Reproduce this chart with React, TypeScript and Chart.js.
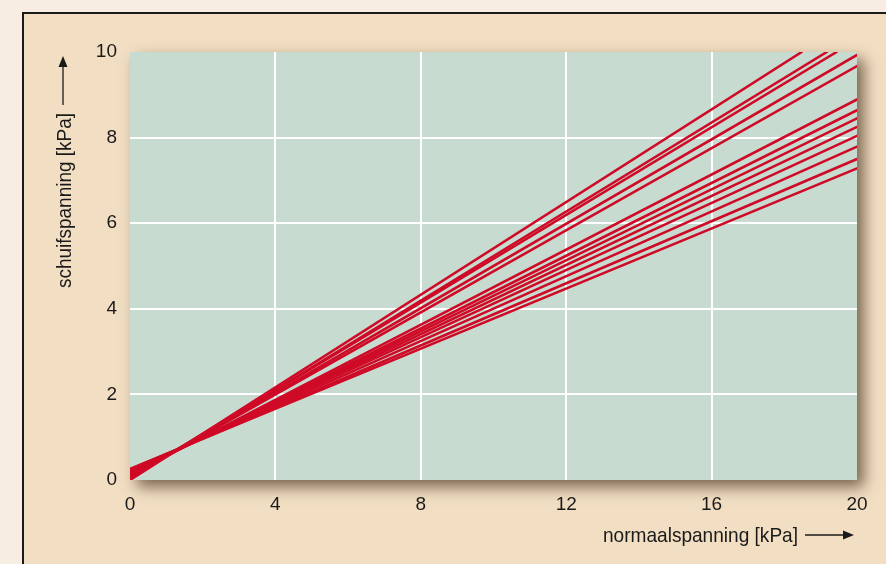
import React, { useEffect, useRef } from "react";
import { Chart, registerables } from "chart.js";

Chart.register(...registerables);

// Data: each line runs from (0, intercept) to (endX, endY)
const intercepts = [0.0, 0.03, 0.05, 0.07, 0.08, 0.12, 0.14, 0.16, 0.18, 0.2, 0.22, 0.24, 0.26];
const endX = [18.48, 19.17, 19.44, 20, 20, 20, 20, 20, 20, 20, 20, 20, 20];
const endY = [10, 10, 10, 9.93, 9.67, 8.89, 8.64, 8.45, 8.25, 8.04, 7.79, 7.5, 7.28];

const xTicks = [0, 4, 8, 12, 16, 20];
const yTicks = [0, 2, 4, 6, 8, 10];
const xTitle = "normaalspanning [kPa]";
const yTitle = "schuifspanning [kPa]";

const FONT = "'Liberation Sans', Arial, 'DejaVu Sans', sans-serif";
const LINE_COLOR = "#cf0a27";
const PLOT_BG = "#c8dbd0";
const TEXT_COLOR = "#1a1a1a";

// draw text horizontally condensed to a target width (mimics a condensed typeface)
function condensedText(ctx: CanvasRenderingContext2D, text: string, x: number, y: number, width: number) {
  const w = ctx.measureText(text).width;
  const s = Math.min(1, width / w);
  ctx.save();
  ctx.translate(x, y);
  ctx.scale(s, 1);
  ctx.fillText(text, 0, 0);
  ctx.restore();
}

const decorPlugin = {
  id: "decor",
  beforeDraw(chart: any) {
    const { ctx, chartArea } = chart;
    ctx.save();
    ctx.shadowColor = "rgba(70,50,30,0.7)";
    ctx.shadowBlur = 14;
    ctx.shadowOffsetX = 7;
    ctx.shadowOffsetY = 7;
    ctx.fillStyle = PLOT_BG;
    ctx.fillRect(chartArea.left, chartArea.top, chartArea.right - chartArea.left, chartArea.bottom - chartArea.top);
    ctx.restore();
  },
  afterDraw(chart: any) {
    const { ctx } = chart;
    ctx.save();
    ctx.fillStyle = TEXT_COLOR;
    ctx.strokeStyle = TEXT_COLOR;
    ctx.font = `21px ${FONT}`;
    ctx.textAlign = "left";
    ctx.textBaseline = "middle";
    // x title
    condensedText(ctx, xTitle, 603, 536, 195);
    // x arrow
    ctx.lineWidth = 1.3;
    ctx.beginPath();
    ctx.moveTo(805, 535);
    ctx.lineTo(846, 535);
    ctx.stroke();
    ctx.beginPath();
    ctx.moveTo(854, 535);
    ctx.lineTo(843, 530.5);
    ctx.lineTo(843, 539.5);
    ctx.closePath();
    ctx.fill();
    // y title
    ctx.save();
    ctx.translate(65, 288);
    ctx.rotate(-Math.PI / 2);
    condensedText(ctx, yTitle, 0, 0, 175);
    ctx.restore();
    // y arrow
    ctx.beginPath();
    ctx.moveTo(63, 105);
    ctx.lineTo(63, 64);
    ctx.stroke();
    ctx.beginPath();
    ctx.moveTo(63, 56);
    ctx.lineTo(58.5, 67);
    ctx.lineTo(67.5, 67);
    ctx.closePath();
    ctx.fill();
    ctx.restore();
  },
};

export default function App() {
  const ref = useRef<HTMLCanvasElement | null>(null);

  useEffect(() => {
    if (!ref.current) return;
    const datasets = intercepts.map((c, i) => ({
      label: `lijn ${i + 1}`,
      data: [
        { x: 0, y: c },
        { x: endX[i], y: endY[i] },
      ],
      borderColor: LINE_COLOR,
      backgroundColor: LINE_COLOR,
      borderWidth: 2.6,
      borderCapStyle: "round" as const,
      pointRadius: 0,
      fill: false,
      tension: 0,
    }));
    const chart = new Chart(ref.current, {
      type: "line",
      data: { datasets },
      options: {
        responsive: false,
        animation: false,
        devicePixelRatio: 1,
        layout: { padding: { left: 80, right: 29, top: 52, bottom: 44 } },
        plugins: { legend: { display: false }, tooltip: { enabled: false } },
        scales: {
          x: {
            type: "linear",
            min: 0,
            max: 20,
            border: { display: false },
            afterFit: (s: any) => {
              s.height = 40;
            },
            afterBuildTicks: (s: any) => {
              s.ticks = xTicks.map((v) => ({ value: v }));
            },
            grid: {
              drawTicks: false,
              lineWidth: 2,
              color: (c: any) => (c.tick && (c.tick.value === 0 || c.tick.value === 20) ? "rgba(0,0,0,0)" : "#ffffff"),
            },
            ticks: { padding: 13, color: TEXT_COLOR, font: { family: FONT, size: 19 }, maxRotation: 0 },
          },
          y: {
            type: "linear",
            min: 0,
            max: 10,
            border: { display: false },
            afterFit: (s: any) => {
              s.width = 50;
            },
            afterBuildTicks: (s: any) => {
              s.ticks = yTicks.map((v) => ({ value: v }));
            },
            grid: {
              drawTicks: false,
              lineWidth: 2,
              color: (c: any) => (c.tick && (c.tick.value === 0 || c.tick.value === 10) ? "rgba(0,0,0,0)" : "#ffffff"),
            },
            ticks: { padding: 13, color: TEXT_COLOR, font: { family: FONT, size: 19 } },
          },
        },
      },
      plugins: [decorPlugin],
    });
    return () => chart.destroy();
  }, []);

  return (
    <div style={{ position: "fixed", left: 0, top: 0, width: 886, height: 564, background: "#f7ede3", overflow: "hidden" }}>
      <div
        style={{
          position: "absolute",
          left: 22,
          top: 12,
          width: 900,
          height: 600,
          background: "#f2dfc3",
          borderLeft: "2px solid #1a1a1a",
          borderTop: "2px solid #1a1a1a",
        }}
      />
      <canvas ref={ref} width={886} height={564} style={{ position: "absolute", left: 0, top: 0 }} />
    </div>
  );
}
